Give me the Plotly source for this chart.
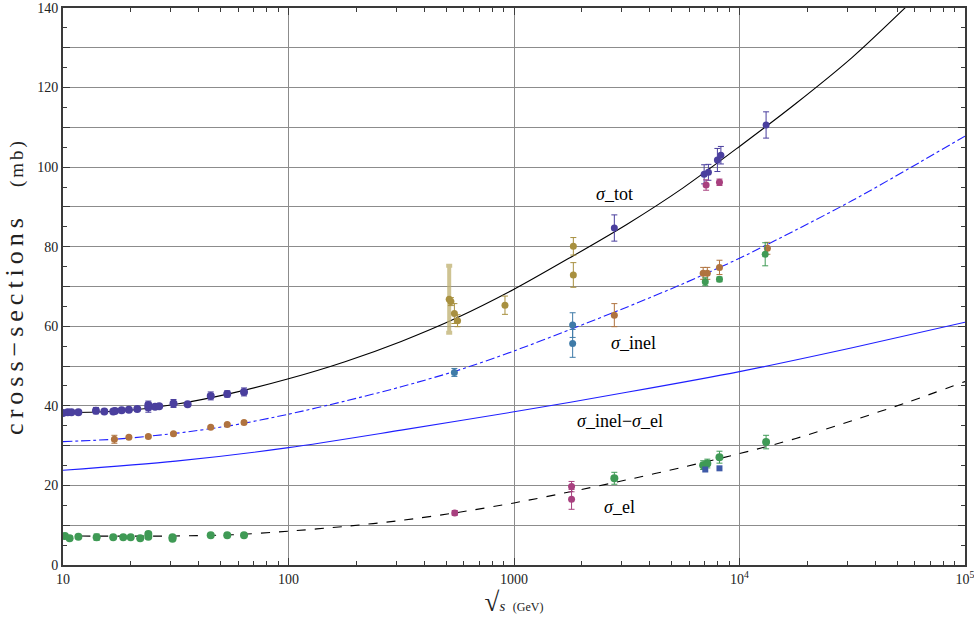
import math
import plotly.graph_objects as go

# ---------------- curves (quarter-decade steps) ----------------
tot_x = [10, 17.8, 31.6, 56.2, 100, 178, 316, 562, 1000, 1778, 3162, 5623, 10000, 17783, 31623, 56234]
tot_y = [38.3, 38.7, 40.4, 43.2, 46.8, 51.1, 56.2, 62.2, 69.3, 77.3, 85.6, 94.8, 105.2, 116.0, 127.6, 140.9]

inel_x = [10, 17.8, 31.6, 56.2, 100, 178, 316, 562, 1000, 1778, 3162, 5623, 10000, 17783, 31623, 56234, 100000]
inel_y = [31.0, 31.7, 33.1, 35.1, 37.9, 41.2, 44.8, 48.9, 53.8, 59.2, 64.8, 70.7, 77.1, 84.2, 91.6, 99.6, 107.8]

diff_x = [10, 31.6, 100, 316, 1000, 3162, 10000, 31623, 100000]
diff_y = [23.8, 26.1, 29.5, 33.9, 38.5, 43.4, 48.6, 54.6, 61.0]

el_x = [10, 17.8, 31.6, 56.2, 100, 178, 316, 562, 1000, 1778, 3162, 5623, 10000, 17783, 31623, 56234, 100000]
el_y = [7.3, 7.25, 7.3, 7.6, 8.5, 9.7, 11.2, 13.2, 15.6, 18.4, 21.4, 24.6, 28.0, 31.8, 36.3, 41.0, 46.1]

# ---------------- data points ----------------
tot_low_x = [10.0, 10.5, 10.9, 11.7, 14.0, 15.25, 16.7, 17.0, 18.2, 19.6, 21.35, 23.9, 23.9, 25.6, 26.7, 30.9, 35.7, 45.2, 53.5, 63.5]
tot_low_y = [38.2, 38.4, 38.4, 38.4, 38.8, 38.6, 38.6, 38.7, 38.9, 39.0, 39.2, 39.6, 40.2, 39.8, 39.9, 40.6, 40.4, 42.5, 43.0, 43.5]
tot_low_e = [0.3, 0.3, 0.3, 0.3, 0.8, 0.3, 0.3, 0.3, 0.3, 0.3, 0.3, 1.2, 1.0, 0.3, 0.3, 1.0, 0.4, 1.0, 0.8, 1.0]

tot_hi_x = [2786, 6970, 7280, 7980, 8270, 13120]
tot_hi_y = [84.7, 98.2, 98.7, 101.8, 103.0, 110.6]
tot_hi_e = [3.3, 2.4, 2.0, 2.9, 2.2, 3.3]

tot_mag_x = [7110, 8150]
tot_mag_y = [95.5, 96.2]
tot_mag_e = [1.3, 0.8]

inel_br_x = [16.9, 19.6, 23.9, 30.9, 45.2, 53.5, 63.5, 2786, 6900, 7200, 8150, 13300]
inel_br_y = [31.6, 32.1, 32.3, 33.0, 34.6, 35.3, 35.8, 62.8, 73.3, 73.3, 74.8, 79.6]
inel_br_e = [1.0, 0.3, 0.3, 0.3, 0.3, 0.3, 0.3, 2.9, 1.5, 1.5, 1.8, 1.5]

inel_ol_x = [525, 544, 562, 912, 1833, 1833]
inel_ol_y = [66.2, 63.2, 61.4, 65.3, 80.1, 72.9]
inel_ol_e = [1.0, 2.5, 1.5, 2.3, 2.2, 3.1]
inel_olw_x = [516]
inel_olw_y = [66.8]
inel_olw_e = [8.4]

inel_teal_x = [544, 1820, 1820]
inel_teal_y = [48.4, 60.3, 55.7]
inel_teal_e = [1.0, 3.1, 3.5]

inel_gr_x = [7050, 8150, 13000]
inel_gr_y = [71.2, 71.8, 78.1]
inel_gr_e = [1.0, 0.6, 2.9]

el_gr_x = [10.2, 10.7, 11.7, 14.1, 16.7, 18.5, 19.96, 22.0, 23.9, 23.9, 30.6, 30.6, 45.2, 53.5, 63.5, 2786, 6900, 7200, 8150, 13120]
el_gr_y = [7.3, 6.7, 7.1, 7.0, 7.0, 7.0, 7.0, 6.7, 7.1, 7.8, 7.0, 6.6, 7.5, 7.5, 7.5, 21.8, 25.1, 25.5, 27.1, 30.9]
el_gr_e = [0.3, 0.5, 0.3, 0.8, 0.2, 0.2, 0.2, 0.2, 0.4, 0.5, 0.3, 0.3, 0.2, 0.3, 0.2, 1.5, 1.1, 1.1, 1.5, 1.7]

el_mag_x = [546, 1800, 1800]
el_mag_y = [13.1, 19.7, 16.5]
el_mag_e = [0.6, 1.3, 2.5]

el_sq_x = [7050, 8150]
el_sq_y = [24.0, 24.3]

labels = ["<i>σ</i>_tot", "<i>σ</i>_inel", "<i>σ</i>_inel\u2212<i>σ</i>_el", "<i>σ</i>_el"]
label_x = [2800, 3404, 2951, 2924]
label_y = [93.2, 55.8, 36.2, 14.6]

x_tickvals = [10, 100, 1000, 10000, 100000]
x_ticktext = ["10", "100", "1000", "10<sup>4</sup>", "10<sup>5</sup>"]
y_tickvals = list(range(0, 141, 10))
y_ticktext = [str(v) if v % 20 == 0 else "" for v in y_tickvals]

INDIGO = "#4A3F9E"
MAGENTA = "#A8407F"
BROWN = "#B0733F"
OLIVE = "#A8903F"
TEAL = "#3F7BA8"
GREEN = "#3F9A55"
BLUE = "#3F5AA8"

FONT = "Liberation Serif"

fig = go.Figure()

fig.add_trace(go.Scatter(x=tot_x, y=tot_y, mode="lines", line=dict(color="black", width=1.1, shape="spline", smoothing=0.8), hoverinfo="skip"))
fig.add_trace(go.Scatter(x=inel_x, y=inel_y, mode="lines", line=dict(color="#1f1fff", width=1.1, dash="dashdot", shape="spline", smoothing=0.8), hoverinfo="skip"))
fig.add_trace(go.Scatter(x=diff_x, y=diff_y, mode="lines", line=dict(color="#1f1fff", width=1.1, shape="spline", smoothing=0.8), hoverinfo="skip"))
fig.add_trace(go.Scatter(x=el_x, y=el_y, mode="lines", line=dict(color="black", width=1.1, dash="dash", shape="spline", smoothing=0.8), hoverinfo="skip"))


def pts(x, y, e, color, symbol="circle", size=7, ethick=1, ecolor=None, ewidth=3):
    d = dict(x=x, y=y, mode="markers",
             marker=dict(color=color, size=size, symbol=symbol, line=dict(width=0)))
    if e is not None:
        d["error_y"] = dict(type="data", array=e, visible=True, color=ecolor or color,
                            thickness=ethick, width=ewidth)
    fig.add_trace(go.Scatter(**d))


pts(inel_olw_x, inel_olw_y, inel_olw_e, OLIVE, ethick=4, ecolor="rgba(190,175,110,0.75)", ewidth=3)
pts(inel_ol_x, inel_ol_y, inel_ol_e, OLIVE)
pts(inel_teal_x, inel_teal_y, inel_teal_e, TEAL)
pts(tot_low_x, tot_low_y, tot_low_e, INDIGO, size=8)
pts(tot_hi_x, tot_hi_y, tot_hi_e, INDIGO)
pts(tot_mag_x, tot_mag_y, tot_mag_e, MAGENTA)
pts(inel_br_x, inel_br_y, inel_br_e, BROWN)
pts(inel_gr_x, inel_gr_y, inel_gr_e, GREEN)
pts(el_gr_x, el_gr_y, el_gr_e, GREEN, size=8)
pts(el_mag_x, el_mag_y, el_mag_e, MAGENTA)
pts(el_sq_x, el_sq_y, None, BLUE, symbol="square", size=6)

for t, lx, ly in zip(labels, label_x, label_y):
    # annotation x on a log axis is given in log10 units
    fig.add_annotation(x=math.log10(lx), y=ly, xref="x", yref="y", text=t, showarrow=False,
                       font=dict(family=FONT, size=18, color="black"), xanchor="center", yanchor="middle")

minor_x = [m * 10 ** k for k in range(1, 5) for m in range(2, 10)]

fig.update_xaxes(type="log", range=[1, 5], tickmode="array", tickvals=x_tickvals, ticktext=x_ticktext,
                 showgrid=True, gridcolor="#8c8c8c", gridwidth=1,
                 showline=True, linecolor="#3a3a3a", linewidth=2, mirror="allticks",
                 ticks="inside", ticklen=7, tickwidth=1, tickcolor="#3a3a3a",
                 minor=dict(tickmode="array", tickvals=minor_x, ticks="inside", ticklen=4, tickwidth=1,
                            tickcolor="#3a3a3a", showgrid=False),
                 tickfont=dict(family=FONT, size=14, color="#222"),
                 ticklabeloverflow="allow",
                 zeroline=False, automargin=False,
                 title=dict(text="<span style='font-size:27px'>√</span><i>s</i>  <span style='font-size:12px'>(GeV)</span>",
                            font=dict(family=FONT, size=15, color="#222"), standoff=8))

fig.update_yaxes(range=[0, 140], tickmode="array", tickvals=y_tickvals, ticktext=y_ticktext,
                 showgrid=True, gridcolor="#8c8c8c", gridwidth=1,
                 showline=True, linecolor="#3a3a3a", linewidth=2, mirror="allticks",
                 ticks="inside", ticklen=7, tickwidth=1, tickcolor="#3a3a3a",
                 minor=dict(dtick=5, tick0=0, ticks="inside", ticklen=4, tickwidth=1, tickcolor="#3a3a3a", showgrid=False),
                 tickfont=dict(family=FONT, size=14, color="#222"),
                 ticklabeloverflow="allow",
                 zeroline=False, automargin=False,
                 title=dict(text="<span style='letter-spacing:5px'>cross\u2212sections</span>    <span style='font-size:19px;letter-spacing:3px'>(mb)</span>",
                            font=dict(family=FONT, size=26, color="#222"), standoff=10))

fig.update_layout(width=974, height=628, showlegend=False,
                  plot_bgcolor="white", paper_bgcolor="white",
                  margin=dict(l=63, r=9, t=8, b=63))

fig.write_html("out.html", config={"displayModeBar": False},
               post_script="document.body.style.margin='0';document.body.style.overflow='hidden';")
